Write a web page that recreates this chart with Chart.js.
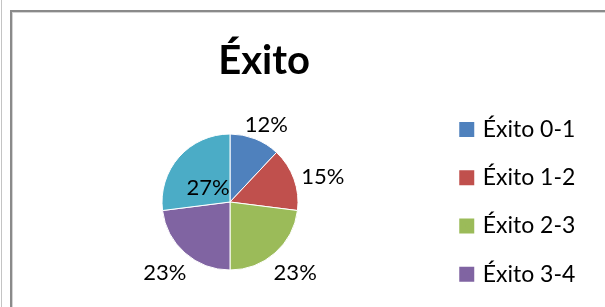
<!DOCTYPE html>
<html><head><meta charset="utf-8">
<script src="https://cdn.jsdelivr.net/npm/chart.js@4/dist/chart.umd.min.js"></script>
<style>
html,body{margin:0;padding:0;background:#fff;width:605px;height:307px;overflow:hidden;}
#wrap{position:relative;width:605px;height:307px;overflow:hidden;background:#fff;}
#edge{position:absolute;left:1px;top:0;width:1px;height:307px;background:#c4c4c4;}
#frame{position:absolute;left:10px;top:10px;width:700px;height:400px;border-left:2px solid #8a8a8a;border-top:2px solid #8a8a8a;box-shadow:inset 1px 1px 0 #d4d4d4;}
canvas{position:absolute;left:0;top:0;}
</style></head><body>
<div id="wrap"><div id="edge"></div><div id="frame"></div><canvas id="c" width="605" height="380"></canvas></div>
<script>
const chartTitle = 'Éxito';
const categories = ['Éxito 0-1', 'Éxito 1-2', 'Éxito 2-3', 'Éxito 3-4', 'Éxito 4-5'];
const values = [12, 15, 23, 23, 27];
const colors = ['#4F81BD', '#C0504D', '#9BBB59', '#8064A2', '#4BACC6'];

Chart.defaults.font.family = 'Lato';

const pieLabels = {
  id: 'pieLabels',
  afterDatasetsDraw(chart) {
    const meta = chart.getDatasetMeta(0);
    const data = chart.data.datasets[0].data;
    const total = data.reduce((a, b) => a + b, 0);
    const ctx = chart.ctx;
    const size = 22;
    ctx.save();
    ctx.font = size + 'px Lato';
    ctx.fillStyle = '#000';
    ctx.textAlign = 'center';
    ctx.textBaseline = 'middle';
    meta.data.forEach((arc, i) => {
      const p = arc.getProps(['x', 'y', 'startAngle', 'endAngle', 'outerRadius'], true);
      const mid = (p.startAngle + p.endAngle) / 2;
      const dx = Math.cos(mid), dy = Math.sin(mid);
      const frac = data[i] / total;
      const text = Math.round(frac * 100) + '%';
      const w = ctx.measureText(text).width, h = size;
      let cx, cy;
      if (frac >= 0.25) {
        cx = p.x + dx * p.outerRadius * 0.43;
        cy = p.y + dy * p.outerRadius * 0.43;
      } else {
        const d = p.outerRadius + 9;
        cx = p.x + dx * d + dx * w / 2;
        cy = p.y + dy * d + dy * h / 2;
      }
      ctx.fillText(text, cx, cy + 5);
    });
    ctx.restore();
  }
};

// let legend text run past the narrow legend box instead of being clipped
const legendOverflow = {
  id: 'legendOverflow',
  afterLayout(chart) {
    if (chart.legend) chart.legend.right = chart.width;
  }
};

new Chart(document.getElementById('c'), {
  type: 'pie',
  data: {
    labels: categories,
    datasets: [{
      data: values,
      backgroundColor: colors,
      borderColor: '#ffffff',
      borderWidth: 1,
      radius: 68
    }]
  },
  options: {
    responsive: false,
    animation: false,
    layout: { padding: { left: 23, right: 100, top: 0, bottom: 20.75 } },
    plugins: {
      title: {
        display: true,
        text: chartTitle,
        color: '#000',
        font: { family: 'Lato', size: 40, weight: 'bold', lineHeight: 1.2 },
        padding: { top: 37, bottom: -40.25 },
        fullSize: true
      },
      legend: {
        position: 'right',
        align: 'end',
        fullSize: true,
        maxWidth: 68,
        labels: {
          color: '#000',
          font: { family: 'Lato', size: 23 },
          boxWidth: 9,
          boxHeight: 9,
          padding: 25.25,
          generateLabels(chart) {
            const items = Chart.overrides.pie.plugins.legend.labels.generateLabels(chart);
            return items.map(it => Object.assign(it, { strokeStyle: it.fillStyle, lineWidth: 6 }));
          }
        }
      },
      tooltip: { enabled: false }
    }
  },
  plugins: [pieLabels, legendOverflow]
});
</script>
</body></html>
